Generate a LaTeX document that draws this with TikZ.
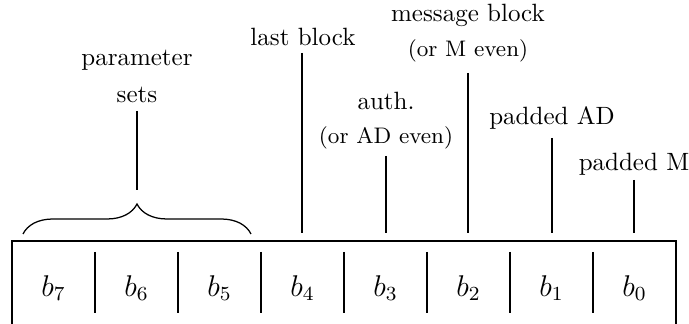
\documentclass[tikz,border=0pt]{standalone}
\usetikzlibrary{decorations.pathreplacing}
\begin{document}
\begin{tikzpicture}[x=0.4pt,y=-0.4pt,
  boxline/.style={line width=0.8pt},
  divider/.style={line width=0.5pt},
  pointer/.style={line width=0.5pt},
  lbl/.style={inner sep=0pt,font=\normalsize},
  sublbl/.style={inner sep=0pt,font=\small},
  cell/.style={inner sep=0pt,font=\large}]
\useasboundingbox (0,0) rectangle (689,324);

% register outline (open at the bottom edge of the page)
\draw[boxline] (12,340) -- (12,241) -- (676,241) -- (676,340);

% cells b7 ... b0
\foreach \i [count=\k from 0] in {7,6,5,4,3,2,1,0}{
  \node[cell] (b\i) at ({12+83*\k+41.5},288) {$b_{\i}$};
}
\foreach \k in {1,...,7}{
  \draw[divider] ({12+83*\k},252) -- ({12+83*\k},313);
}

% brace over the parameter-set cells
\coordinate (brL) at (23,234);
\coordinate (brR) at (251,234);
\draw[pointer,decorate,decoration={brace,amplitude=12pt}] (brL) -- (brR);

% labels
\node[lbl] (par1) at (137,60) {parameter};
\node[lbl] (par2) at (137,95) {sets};
\node[lbl] (last) at (303,37) {last block};
\node[lbl] (msg1) at (468,15) {message block};
\node[sublbl] (msg2) at (468,51) {(or M even)};
\node[lbl] (auth1) at (386,101) {auth.};
\node[sublbl] (auth2) at (386,138) {(or AD even)};
\node[lbl] (pad1) at (552,118) {padded AD};
\node[lbl] (pad0) at (634,164) {padded M};

% pointer lines
\coordinate (pT) at (137,111); \coordinate (pB) at (137,190);
\coordinate (lT) at (302,53);  \coordinate (lB) at (302,233);
\coordinate (mT) at (468,73);  \coordinate (mB) at (468,233);
\coordinate (aT) at (386,156); \coordinate (aB) at (386,233);
\coordinate (dT) at (552,138); \coordinate (dB) at (552,233);
\coordinate (eT) at (634,180); \coordinate (eB) at (634,233);
\draw[pointer] (pT) -- (pB);
\draw[pointer] (lT) -- (lB);
\draw[pointer] (mT) -- (mB);
\draw[pointer] (aT) -- (aB);
\draw[pointer] (dT) -- (dB);
\draw[pointer] (eT) -- (eB);
\end{tikzpicture}
\end{document}
